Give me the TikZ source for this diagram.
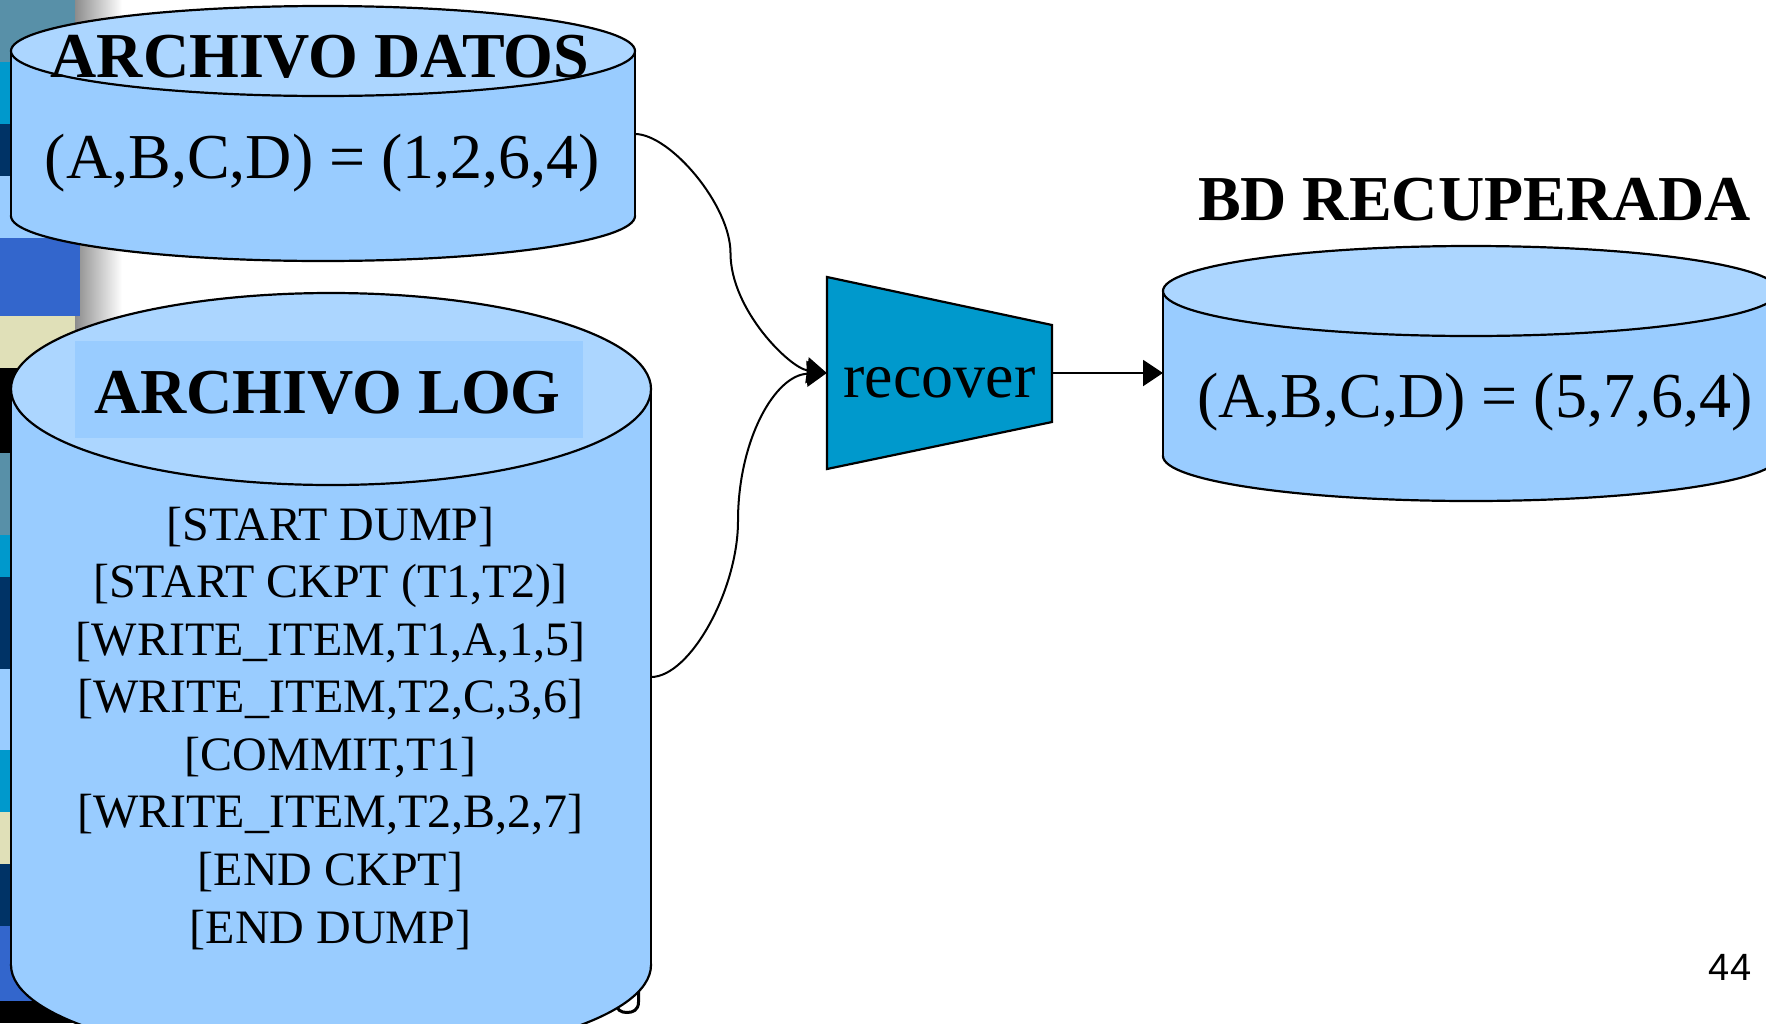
\documentclass[tikz,border=0pt]{standalone}
\usepackage{fontspec}
\setmainfont{Liberation Serif}
\newfontfamily\sansf{Liberation Sans}
\usetikzlibrary{arrows.meta}
\definecolor{cylbody}{RGB}{153,204,255}
\definecolor{cyltop}{RGB}{172,214,255}
\definecolor{trapfill}{RGB}{0,153,204}
\definecolor{stteal}{RGB}{88,144,168}
\definecolor{stcyan}{RGB}{0,153,204}
\definecolor{stnavy}{RGB}{0,51,102}
\definecolor{stlight}{RGB}{153,204,255}
\definecolor{stroyal}{RGB}{51,102,204}
\definecolor{stbeige}{RGB}{224,224,184}
\begin{document}
\begin{tikzpicture}[x=1pt,y=-1pt,
  outl/.style={draw=black, line width=2.2pt},
  conn/.style={draw=black, line width=2pt, -{Triangle[length=20pt,width=26pt]}},
  ttl/.style={font=\fontsize{64}{70}\selectfont\bfseries, anchor=base, inner sep=0pt},
  valtxt/.style={font=\fontsize{64}{70}\selectfont, anchor=base, inner sep=0pt},
  logtxt/.style={font=\fontsize{48}{56}\selectfont, anchor=base, inner sep=0pt}]
\useasboundingbox (0,0) rectangle (1766,1023);
\clip (0,0) rectangle (1766,1023);
\fill[white] (0,0) rectangle (1766,1023);
% left decoration
\shade[left color=black!45, right color=white] (75,0) rectangle (122,1023);
\foreach \a/\b/\c/\w in {0/62/stteal/75, 62/124/stcyan/75, 124/176/stnavy/75,
  176/238/stlight/75, 238/316/stroyal/80, 316/368/stbeige/75, 368/453/black/75,
  453/535/stteal/75, 535/577/stcyan/75, 577/669/stnavy/75, 669/750/stlight/75,
  750/812/stcyan/75, 812/864/stbeige/75, 864/926/stnavy/75, 926/1001/stroyal/80,
  1001/1023/black/75}
  \fill[\c] (0,\a) rectangle (\w,\b);
% hidden glyph fragment behind the log cylinder
\draw[line width=3pt] (638.5,989) -- (638.5,1002) .. controls (638.5,1010) and (633,1012.5) .. (627,1012.5) .. controls (621,1012.5) and (616,1010) .. (616,1002) -- (616,989);
% ARCHIVO DATOS cylinder
\filldraw[fill=cylbody, outl] (323,216) ellipse [x radius=312, y radius=45];
\fill[cylbody] (11,51) rectangle (635,216);
\draw[outl] (11,51) -- (11,216) (635,51) -- (635,216);
\filldraw[fill=cyltop, outl] (323,51) ellipse [x radius=312, y radius=45];
% ARCHIVO LOG cylinder
\filldraw[fill=cylbody, outl] (331,965) ellipse [x radius=320, y radius=96];
\fill[cylbody] (11,389) rectangle (651,965);
\draw[outl] (11,389) -- (11,965) (651,389) -- (651,965);
\filldraw[fill=cyltop, outl] (331,389) ellipse [x radius=320, y radius=96];
\fill[cylbody] (75,341) rectangle (583,438);
% BD RECUPERADA cylinder
\filldraw[fill=cylbody, outl] (1471,456) ellipse [x radius=308, y radius=45];
\fill[cylbody] (1163,291) rectangle (1779,456);
\draw[outl] (1163,291) -- (1163,456) (1779,291) -- (1779,456);
\filldraw[fill=cyltop, outl] (1471,291) ellipse [x radius=308, y radius=45];
% texts
\node[ttl] (tDatos) at (320,77) {ARCHIVO DATOS};
\node[valtxt] (vDatos) at (322.5,178) {(A,B,C,D) = (1,2,6,4)};
\node[ttl] (tLog) at (327.5,413) {ARCHIVO LOG};
\node[logtxt] (l1) at (330.5,540) {[START DUMP]};
\node[logtxt] (l2) at (330.5,597.6) {[START CKPT (T1,T2)]};
\node[logtxt] (l3) at (330.5,655.1) {[WRITE\_ITEM,T1,A,1,5]};
\node[logtxt] (l4) at (330.5,712.7) {[WRITE\_ITEM,T2,C,3,6]};
\node[logtxt] (l5) at (330.5,770.3) {[COMMIT,T1]};
\node[logtxt] (l6) at (330.5,827.8) {[WRITE\_ITEM,T2,B,2,7]};
\node[logtxt] (l7) at (330.5,885.4) {[END CKPT]};
\node[logtxt] (l8) at (330.5,943) {[END DUMP]};
\node[ttl] (tBD) at (1474.5,220) {BD RECUPERADA};
\node[valtxt] (vBD) at (1475,417) {(A,B,C,D) = (5,7,6,4)};
% recover trapezoid
\node[minimum width=225pt, minimum height=192pt, inner sep=0pt] (rec) at (939.5,373) {};
\filldraw[fill=trapfill, outl] (827,277) -- (1052,325) -- (1052,422) -- (827,469) -- cycle;
\node[valtxt] (recTxt) at (939.5,397) {recover};
% page number
\node[font=\sansf\fontsize{38}{44}\selectfont, anchor=base, inner sep=0pt] (pg) at (1730,980) {44};
% connectors
\coordinate (dE) at (635,134);
\coordinate (lE) at (651,677);
\coordinate (bdW) at (1163,373);
\draw[conn] (dE) .. controls (670,134) and (730.5,205) .. (730.5,253) .. controls (730.5,310) and (790,368) .. (rec.west);
\draw[conn] (lE) .. controls (690,677) and (738,590) .. (738,521) .. controls (738,440) and (775,375) .. (rec.west);
\draw[conn] (rec.east) -- (bdW);
\end{tikzpicture}
\end{document}
